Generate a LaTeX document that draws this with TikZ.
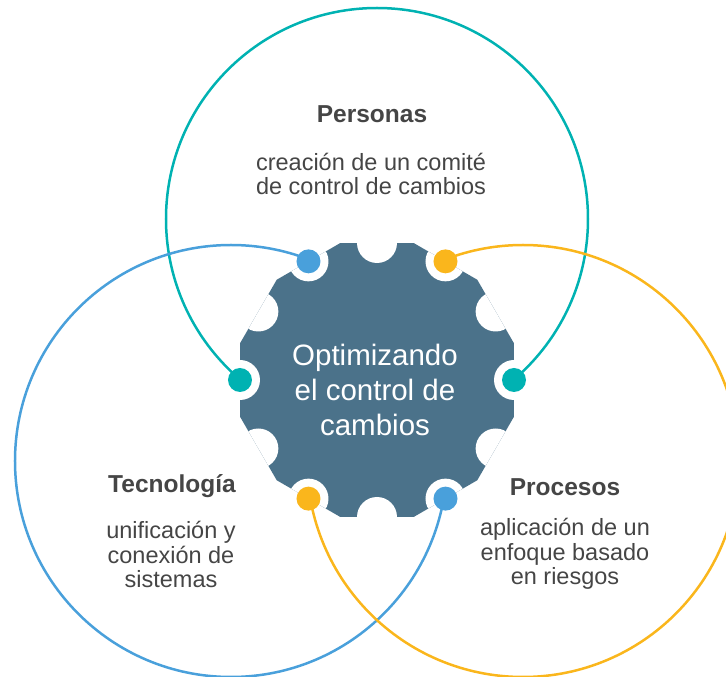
\documentclass[tikz,border=0pt]{standalone}
\usepackage{fontspec}
\setmainfont{Liberation Sans}
\usetikzlibrary{positioning}
\definecolor{tealc}{HTML}{00B2B2}
\definecolor{bluec}{HTML}{49A0DB}
\definecolor{orangec}{HTML}{FAB61C}
\definecolor{gearc}{HTML}{4B728A}
\definecolor{textc}{HTML}{454545}

\begin{document}
\begin{tikzpicture}
    [x=1pt, y=1pt,
    ring/.style={line width=2.5pt},
    dot/.style={circle, inner sep=0pt, minimum size=24pt},
    titulo/.style={font=\bfseries\fontsize{24.5}{28}\selectfont, text=textc, inner sep=0pt, anchor=base},
    cuerpo/.style={font=\fontsize{23.5}{24.5}\selectfont, text=textc, align=center, inner sep=0pt, anchor=base},
    centro/.style={font=\fontsize{29.5}{35}\selectfont, text=white, align=center, inner sep=0pt}]
    \clip (-377,-297) rectangle (349,380);
    % the three circles
    \draw[ring, tealc] (0,161) circle (211);
    \draw[ring, bluec] (-146,-81) circle (216);
    \draw[ring, orangec] (146,-81) circle (216);
    % gear with its notches
    \fill[gearc] (15:141.8) \foreach \a in {45,75,...,345} { -- (\a:141.8) } -- cycle;
    \begin{scope}
        \clip (15:141.8) \foreach \a in {45,75,...,345} { -- (\a:141.8) } -- cycle;
        \foreach \a in {0,30,...,330}
            \fill[white] (\a:137) circle (20);
    \end{scope}
    \node[dot, fill=tealc] (p1) at (0:137) {};
    \node[dot, fill=orangec] (r1) at (60:137) {};
    \node[dot, fill=bluec] (t1) at (120:137) {};
    \node[dot, fill=tealc] (p2) at (180:137) {};
    \node[dot, fill=orangec] (r2) at (240:137) {};
    \node[dot, fill=bluec] (t2) at (300:137) {};
    \node[centro] (gear) at (-2,-10) {Optimizando\\el control de\\cambios};
    % labels
    \node[titulo] (persT) at (-5,257) {Personas};
    \node[cuerpo] (persB) at (-6,185) {creación de un comité\\de control de cambios};
    \node[titulo] (tecT) at (-205,-113) {Tecnología};
    \node[cuerpo] (tecB) at (-206,-208) {unificación y\\conexión de\\sistemas};
    \node[titulo] (proT) at (188,-116) {Procesos};
    \node[cuerpo] (proB) at (188,-205) {aplicación de un\\enfoque basado\\en riesgos};
\end{tikzpicture}
\end{document}
